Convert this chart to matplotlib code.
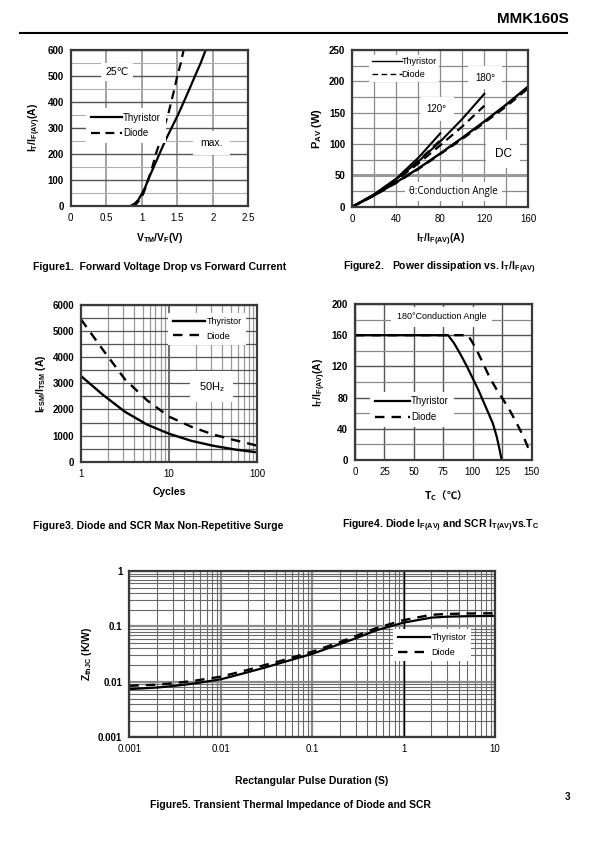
import numpy as np
import matplotlib
matplotlib.use('Agg')
import matplotlib.pyplot as plt
from matplotlib.ticker import FixedLocator, NullFormatter

plt.rcParams['font.family'] = ['Liberation Sans', 'DejaVu Sans', 'Noto Sans CJK SC']
plt.rcParams['mathtext.default'] = 'regular'

# ---------------- data ----------------
# Figure 1 - forward voltage drop vs forward current
f1_thy_v = [0.85, 0.90, 0.95, 1.00, 1.05, 1.09, 1.17, 1.25, 1.33, 1.42, 1.51,
            1.60, 1.68, 1.75, 1.83, 1.90]
f1_thy_i = [0, 8, 22, 45, 72, 100, 150, 200, 250, 300, 350, 405, 455, 500, 550, 600]
f1_dio_v = [0.87, 0.92, 0.97, 1.02, 1.06, 1.09, 1.15, 1.20, 1.26, 1.31, 1.37,
            1.42, 1.46, 1.50, 1.55, 1.59]
f1_dio_i = [0, 6, 22, 45, 75, 100, 150, 200, 250, 300, 350, 405, 450, 500, 550, 600]

# Figure 2 - power dissipation
f2_dc_thy_i = [0, 20, 40, 60, 80, 100, 120, 140, 160]
f2_dc_thy_p = [0, 18, 39, 61, 85, 110, 136, 163, 192]
f2_dc_dio_i = [0, 20, 40, 60, 80, 100, 120, 140, 160]
f2_dc_dio_p = [0, 18, 38, 60, 84, 108, 134, 160, 189]
f2_180_thy_i = [0, 20, 40, 60, 80, 100, 120]
f2_180_thy_p = [0, 19, 44, 72, 104, 140, 180]
f2_180_dio_i = [0, 20, 40, 60, 80, 100, 120]
f2_180_dio_p = [0, 19, 42, 69, 98, 128, 161]
f2_120_thy_i = [0, 20, 40, 60, 80]
f2_120_thy_p = [0, 20, 45, 78, 117]
f2_120_dio_i = [0, 20, 40, 60, 80]
f2_120_dio_p = [0, 19, 43, 73, 106]

# Figure 3 - surge current vs cycles
f3_cycles = [1, 1.78, 3.16, 5.62, 10, 17.8, 31.6, 56.2, 100]
f3_thy = [3280, 2555, 1910, 1420, 1070, 800, 610, 465, 357]
f3_dio = [5450, 4276, 3150, 2350, 1725, 1340, 1040, 820, 613]

# Figure 4 - current vs case temperature
f4_thy_t = [0, 79, 84, 89, 95, 100.5, 105, 109, 113, 117, 120.3, 122.5, 124.5]
f4_thy_i = [160, 160, 150, 137, 120, 103, 89, 75, 61, 47, 30, 15, 0]
f4_dio_t = [0, 96, 100, 103.3, 109, 114.6, 120, 126, 132, 137.3, 143, 148.6]
f4_dio_i = [160, 160, 150, 141, 123, 105, 91, 77, 62, 47, 30, 10]

# Figure 5 - transient thermal impedance
f5_t = [0.001, 0.002, 0.003, 0.005, 0.01, 0.02, 0.03, 0.05, 0.1, 0.2, 0.3, 0.5,
        1, 2, 3, 5, 10]
f5_thy = [0.0074, 0.0079, 0.0084, 0.0093, 0.0111, 0.015, 0.018, 0.023, 0.032,
          0.048, 0.061, 0.085, 0.117, 0.144, 0.150, 0.153, 0.155]
f5_dio = [0.0085, 0.0089, 0.0094, 0.0104, 0.0124, 0.0165, 0.020, 0.025, 0.035,
          0.052, 0.067, 0.093, 0.130, 0.162, 0.168, 0.171, 0.173]

W, H = 595, 842
fig = plt.figure(figsize=(W / 100, H / 100), dpi=100)
fig.patch.set_facecolor('white')


def box(x0, y0, x1, y1):
    # pixel box (top-left origin) -> figure fraction rect
    return [x0 / W, 1 - y1 / H, (x1 - x0) / W, (y1 - y0) / H]


def style(ax):
    ax.set_axisbelow(True)
    for sp in ax.spines.values():
        sp.set_edgecolor('#3a3a3a')
        sp.set_linewidth(1.6)
    ax.tick_params(length=0, pad=5, labelsize=7)
    for lb in ax.get_yticklabels():
        lb.set_fontweight('bold')


WB = dict(facecolor='white', edgecolor='none', pad=3)
LS = dict(color='black', lw=1.6)
LD = dict(color='black', lw=1.6, ls=(0, (4, 2.5)))


def legend(ax, anchor, fs=6.5, hl=3.2):
    lg = ax.legend(loc='upper left', bbox_to_anchor=anchor, fontsize=fs,
                   frameon=True, fancybox=False, framealpha=1, handlelength=hl,
                   handletextpad=0.1, borderpad=0.5, labelspacing=0.6)
    lg.get_frame().set_edgecolor('none')
    lg.set_zorder(5)
    return lg


# ---------------- Figure 1 ----------------
ax = fig.add_axes(box(70.7, 50, 248.3, 205.7))
ax.set_xlim(0, 2.5); ax.set_ylim(0, 600)
ax.set_xticks(np.arange(0, 2.51, 0.5))
ax.set_xticklabels(['0', '0.5', '1', '1.5', '2', '2.5'])
ax.set_yticks(np.arange(0, 601, 100))
ax.yaxis.set_minor_locator(FixedLocator(np.arange(50, 600, 100)))
ax.yaxis.set_minor_formatter(NullFormatter())
ax.tick_params(which='minor', length=0)
ax.grid(axis='x', color='#8a8a8a', lw=1.1)
ax.grid(axis='y', which='major', color='#555555', lw=1.0)
ax.grid(axis='y', which='minor', color='#b0b0b0', lw=0.8)
ax.plot(f1_thy_v, f1_thy_i, label='Thyristor', **LS)
ax.plot(f1_dio_v, f1_dio_i, label='Diode', **LD)
legend(ax, (0.06, 0.66), fs=7)
ax.text(0.65, 516, '25℃', ha='center', va='center', fontsize=7.5, bbox=WB)
ax.text(1.98, 243, 'max.', ha='center', va='center', fontsize=7.5,
        bbox=dict(facecolor='white', edgecolor='none', pad=5))
style(ax)
ax.set_ylabel('$I_T/I_{F(AV)}(A)$', fontsize=7.5, fontweight='bold', labelpad=3)
ax.set_xlabel('$V_{TM}/V_F(V)$', fontsize=7.5, fontweight='bold', labelpad=6)
fig.text(33 / W, 1 - 267 / H, 'Figure1.  Forward Voltage Drop vs Forward Current',
         fontsize=7.5, fontweight='bold', va='center')

# ---------------- Figure 2 ----------------
ax = fig.add_axes(box(352.3, 50, 528.3, 206.7))
ax.set_xlim(0, 160); ax.set_ylim(0, 250)
ax.set_xticks(np.arange(0, 161, 40))
ax.set_yticks(np.arange(0, 251, 50))
ax.xaxis.set_minor_locator(FixedLocator(np.arange(20, 160, 40)))
ax.yaxis.set_minor_locator(FixedLocator(np.arange(25, 250, 50)))
ax.tick_params(which='minor', length=0)
ax.grid(which='both', color='#8a8a8a', lw=0.9)
ax.axhline(50, color='#9a9a9a', lw=2.2, zorder=0.6)
ax.plot(f2_dc_thy_i, f2_dc_thy_p, label='Thyristor', color='black', lw=1.7)
ax.plot(f2_dc_dio_i, f2_dc_dio_p, label='Diode', **LD)
ax.plot(f2_180_thy_i, f2_180_thy_p, color='black', lw=1.5)
ax.plot(f2_180_dio_i, f2_180_dio_p, **LD)
ax.plot(f2_120_thy_i, f2_120_thy_p, color='black', lw=1.5)
ax.plot(f2_120_dio_i, f2_120_dio_p, **LD)
lg = ax.legend(loc='upper left', bbox_to_anchor=(0.07, 1.0), fontsize=6.5,
               frameon=True, fancybox=False, framealpha=1, handlelength=3.3,
               handletextpad=0.0, borderpad=0.3, labelspacing=0.4)
lg.get_frame().set_edgecolor('none')
for ln in lg.get_lines():
    ln.set_linewidth(1.0)
ax.text(120.6, 206, '180°', ha='center', va='center', fontsize=7, bbox=dict(facecolor='white', edgecolor='none', pad=5))
ax.text(76.7, 156, '120°', ha='center', va='center', fontsize=7, bbox=dict(facecolor='white', edgecolor='none', pad=5))
ax.text(137, 84, 'DC', ha='center', va='center', fontsize=8.5, bbox=dict(facecolor='white', edgecolor='none', pad=6))
ax.text(91.8, 24, 'θ:Conduction Angle', ha='center', va='center', fontsize=7,
        family=['Open Sans', 'DejaVu Sans'], bbox=WB)
style(ax)
ax.set_ylabel('$P_{AV}$ (W)', fontsize=8, fontweight='bold', labelpad=4)
ax.set_xlabel('$I_T/I_{F(AV)}(A)$', fontsize=7.5, fontweight='bold', labelpad=6)
fig.text(343 / W, 1 - 268 / H, 'Figure2.   Power dissipation vs. $I_T/I_{F(AV)}$',
         fontsize=7.5, fontweight='bold', va='center')

# ---------------- Figure 3 ----------------
ax = fig.add_axes(box(81, 305, 257.3, 461.7))
ax.set_xscale('log')
ax.set_xlim(1, 100); ax.set_ylim(0, 6000)
ax.set_xticks([1, 10, 100]); ax.set_xticklabels(['1', '10', '100'])
ax.xaxis.set_minor_formatter(NullFormatter())
ax.set_yticks(np.arange(0, 6001, 1000))
ax.yaxis.set_minor_locator(FixedLocator(np.arange(500, 6000, 1000)))
ax.tick_params(which='minor', length=0)
ax.grid(axis='y', which='both', color='#555555', lw=0.9)
ax.grid(axis='x', which='minor', color='#9a9a9a', lw=0.9)
ax.grid(axis='x', which='major', color='#555555', lw=1.2)
ax.plot(f3_cycles, f3_thy, label='Thyristor', color='black', lw=1.7)
ax.plot(f3_cycles, f3_dio, label='Diode', color='black', lw=1.7, ls=(0, (4, 3)))
legend(ax, (0.47, 0.98), fs=6.5, hl=3.6)
ax.text(30.4, 2872, '$50H_z$', ha='center', va='center', fontsize=8,
        bbox=dict(facecolor='white', edgecolor='none', pad=6))
style(ax)
ax.set_ylabel('$I_{FSM}/I_{TSM}$ (A)', fontsize=7.5, fontweight='bold', labelpad=3)
ax.set_xlabel('Cycles', fontsize=7.5, fontweight='bold', labelpad=6)
fig.text(33 / W, 1 - 526 / H, 'Figure3. Diode and SCR Max Non-Repetitive Surge',
         fontsize=7.5, fontweight='bold', va='center')

# ---------------- Figure 4 ----------------
ax = fig.add_axes(box(355, 304, 531.7, 460))
ax.set_xlim(0, 150); ax.set_ylim(0, 200)
ax.set_xticks(np.arange(0, 151, 25))
ax.set_yticks(np.arange(0, 201, 40))
ax.yaxis.set_minor_locator(FixedLocator(np.arange(20, 200, 40)))
ax.tick_params(which='minor', length=0)
ax.grid(axis='x', color='#555555', lw=1.0)
ax.grid(axis='y', which='major', color='#555555', lw=1.0)
ax.grid(axis='y', which='minor', color='#8a8a8a', lw=0.9)
ax.plot(f4_thy_t, f4_thy_i, label='Thyristor', **LS)
ax.plot(f4_dio_t, f4_dio_i, label='Diode', color='black', lw=1.7, ls=(0, (4, 3)))
legend(ax, (0.06, 0.47), fs=7, hl=3.6)
ax.text(73.6, 183.7, '180°Conduction Angle', ha='center', va='center', fontsize=6.5,
        bbox=dict(facecolor='white', edgecolor='none', pad=4))
style(ax)
ax.set_ylabel('$I_T/I_{F(AV)}(A)$', fontsize=7.5, fontweight='bold', labelpad=3)
# mathtext only uses the first family, so the CJK font carries ℃ and the parens
ax.set_xlabel('$T_C$（℃）', fontsize=7.5, fontweight='bold', labelpad=8,
              family='Noto Sans CJK SC')
fig.text(342 / W, 1 - 526 / H, 'Figure4. Diode $I_{F(AV)}$ and SCR $I_{T(AV)}$vs.$T_C$',
         fontsize=7.5, fontweight='bold', va='center')

# ---------------- Figure 5 ----------------
ax = fig.add_axes(box(129.3, 571, 495, 737.3))
ax.set_xscale('log'); ax.set_yscale('log')
ax.set_xlim(0.001, 10); ax.set_ylim(0.001, 1)
ax.set_xticks([0.001, 0.01, 0.1, 1, 10])
ax.set_xticklabels(['0.001', '0.01', '0.1', '1', '10'])
ax.set_yticks([0.001, 0.01, 0.1, 1])
ax.set_yticklabels(['0.001', '0.01', '0.1', '1'])
ax.xaxis.set_minor_formatter(NullFormatter())
ax.yaxis.set_minor_formatter(NullFormatter())
ax.tick_params(which='minor', length=0)
ax.grid(which='minor', color='#6a6a6a', lw=0.8)
ax.grid(which='major', color='#8a8a8a', lw=1.6)
ax.axvline(1, color='black', lw=1.0, zorder=0.6)
ax.plot(f5_t, f5_thy, label='Thyristor', **LS)
ax.plot(f5_t, f5_dio, label='Diode', color='black', lw=1.7, ls=(0, (4, 3)))
legend(ax, (0.71, 0.68), fs=6.5, hl=3.6)
style(ax)
ax.set_ylabel('$Z_{thJC}$ (K/W)', fontsize=7.5, fontweight='bold', labelpad=3)
fig.text(312 / W, 1 - 781 / H, 'Rectangular Pulse Duration (S)', ha='center',
         fontsize=7.5, fontweight='bold', va='center')
fig.text(290 / W, 1 - 805 / H, 'Figure5. Transient Thermal Impedance of Diode and SCR',
         ha='center', fontsize=7.5, fontweight='bold', va='center')

# ---------------- page header ----------------
fig.text(569 / W, 1 - 19 / H, 'MMK160S', ha='right', va='center', fontsize=11,
         fontweight='bold')
fig.add_artist(plt.Line2D([20 / W, 567 / W], [1 - 33 / H, 1 - 33 / H],
                          color='black', lw=1.5))
fig.text(567 / W, 1 - 797 / H, '3', ha='center', va='center', fontsize=7,
         fontweight='bold')

fig.savefig('out.png', dpi=100, facecolor='white')
